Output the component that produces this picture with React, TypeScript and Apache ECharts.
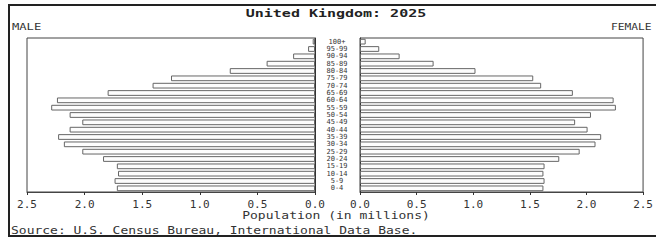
import React, { useEffect, useRef } from "react";
import * as echarts from "echarts";

const ageGroups = ["0-4","5-9","10-14","15-19","20-24","25-29","30-34","35-39","40-44","45-49","50-54","55-59","60-64","65-69","70-74","75-79","80-84","85-89","90-94","95-99","100+"];
const maleValues = [1.72, 1.74, 1.71, 1.72, 1.84, 2.02, 2.18, 2.23, 2.13, 2.02, 2.13, 2.29, 2.24, 1.80, 1.41, 1.25, 0.74, 0.42, 0.19, 0.06, 0.02];
const femaleValues = [1.62, 1.63, 1.62, 1.63, 1.76, 1.94, 2.08, 2.13, 2.01, 1.90, 2.04, 2.26, 2.24, 1.88, 1.60, 1.53, 1.02, 0.65, 0.35, 0.17, 0.05];
const titleText = "United Kingdom: 2025";
const xAxisTitle = "Population (in millions)";
const sourceText = "Source: U.S. Census Bureau, International Data Base.";

const MONO = "'DejaVu Sans Mono', 'Liberation Mono', monospace";

export default function App() {
  const ref = useRef<HTMLDivElement>(null);
  useEffect(() => {
    if (!ref.current) return;
    const chart = echarts.init(ref.current, null, { renderer: "svg" });
    const axisText = { fontFamily: MONO, fontSize: 11, color: "#333" };
    const barStyle = { color: "#fdfdfd", borderColor: "#666", borderWidth: 1 };
    chart.setOption({
      animation: false,
      backgroundColor: "transparent",
      grid: [
        { left: 27, top: 38, width: 288, height: 154, show: true, borderColor: "#444", borderWidth: 1 },
        { left: 360, top: 38, width: 288, height: 154, show: true, borderColor: "#444", borderWidth: 1 },
      ],
      xAxis: [
        {
          type: "value", gridIndex: 0, inverse: true, min: 0, max: 2.5, interval: 0.5,
          splitLine: { show: false },
          axisLine: { show: true, lineStyle: { color: "#444" } },
          axisTick: { show: true, length: 3, lineStyle: { color: "#333" } },
          axisLabel: { ...axisText, margin: 7, formatter: (v: number) => v.toFixed(1) },
        },
        {
          type: "value", gridIndex: 1, min: 0, max: 2.5, interval: 0.5,
          splitLine: { show: false },
          axisLine: { show: true, lineStyle: { color: "#444" } },
          axisTick: { show: true, length: 3, lineStyle: { color: "#333" } },
          axisLabel: { ...axisText, margin: 7, formatter: (v: number) => v.toFixed(1) },
        },
      ],
      yAxis: [
        {
          type: "category", gridIndex: 0, data: ageGroups, position: "right",
          axisLine: { show: true, lineStyle: { color: "#333" } },
          axisTick: { show: false },
          axisLabel: { interval: 0, fontFamily: MONO, fontSize: 7, color: "#333", align: "center", margin: 22, lineHeight: 7 },
        },
        {
          type: "category", gridIndex: 1, data: ageGroups, position: "left",
          axisLine: { show: true, lineStyle: { color: "#333" } },
          axisTick: { show: false },
          axisLabel: { show: false },
        },
      ],
      series: [
        { name: "Male", type: "bar", xAxisIndex: 0, yAxisIndex: 0, data: maleValues, barCategoryGap: "22%", itemStyle: barStyle },
        { name: "Female", type: "bar", xAxisIndex: 1, yAxisIndex: 1, data: femaleValues, barCategoryGap: "22%", itemStyle: barStyle },
      ],
      graphic: [
        { type: "text", x: 336, y: 13.5, scaleX: 1.5, style: { text: titleText, fontFamily: MONO, fontSize: 10, fontWeight: "bold", fill: "#222", textAlign: "center", textVerticalAlign: "middle" } },
        { type: "text", x: 12, y: 27, scaleX: 1.35, style: { text: "MALE", fontFamily: MONO, fontSize: 9, fill: "#333", textAlign: "left", textVerticalAlign: "middle" } },
        { type: "text", x: 611, y: 27, scaleX: 1.25, style: { text: "FEMALE", fontFamily: MONO, fontSize: 9, fill: "#333", textAlign: "left", textVerticalAlign: "middle" } },
        { type: "text", x: 336, y: 216, scaleX: 1.3, style: { text: xAxisTitle, fontFamily: MONO, fontSize: 10, fill: "#333", textAlign: "center", textVerticalAlign: "middle" } },
        { type: "text", x: 11, y: 231, scaleX: 1.3, style: { text: sourceText, fontFamily: MONO, fontSize: 10, fill: "#333", textAlign: "left", textVerticalAlign: "middle" } },
      ],
    });
    return () => chart.dispose();
  }, []);
  return (
    <div style={{ position: "fixed", left: 0, top: 0, width: 656, height: 240, overflow: "hidden", background: "#fff" }}>
      <div ref={ref} style={{ position: "absolute", left: 0, top: 0, width: 656, height: 240 }} />
      <div style={{ position: "absolute", left: 8, top: 4, width: 660, height: 229, border: "2px solid #222", pointerEvents: "none" }} />
    </div>
  );
}
